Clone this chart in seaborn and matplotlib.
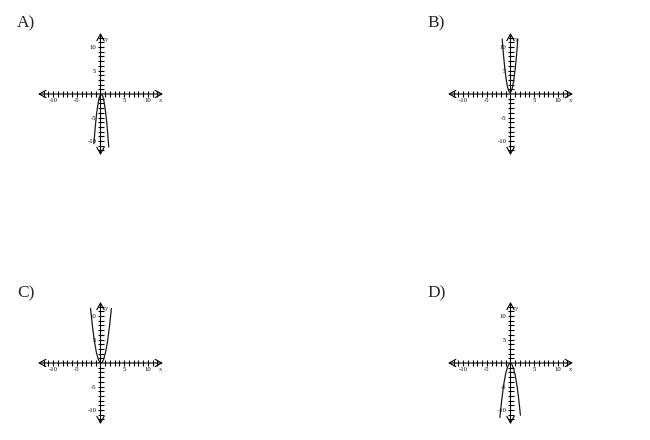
import matplotlib
matplotlib.use("Agg")
import matplotlib.pyplot as plt
import seaborn as sns

# ------------------------------------------------------------
# curve points read off each of the four answer graphs
# ------------------------------------------------------------
a_x = [-1.4, -1.1, -0.8, -0.5, -0.2, 0.15, 0.5, 0.8, 1.1, 1.4, 1.75]
a_y = [-10.6, -6.9, -4.0, -1.9, -0.5, 0.0, -0.5, -1.9, -4.0, -6.9, -11.3]

b_x = [-1.75, -1.5, -1.2, -0.9, -0.6, -0.3, -0.1, 0.1, 0.4, 0.7, 1.0, 1.3, 1.55]
b_y = [11.7, 8.5, 5.4, 3.0, 1.35, 0.5, 0.3, 0.5, 1.35, 3.0, 5.4, 8.5, 11.7]

c_x = [-2.1, -1.7, -1.3, -0.9, -0.5, -0.2, 0.1, 0.4, 0.7, 1.1, 1.5, 1.9, 2.3]
c_y = [11.6, 7.8, 4.7, 2.4, 0.9, 0.2, 0.0, 0.2, 0.9, 2.4, 4.7, 7.8, 11.6]

d_x = [-2.25, -1.85, -1.45, -1.05, -0.65, -0.3, 0.0, 0.3, 0.65, 1.0, 1.4, 1.75, 2.1]
d_y = [-11.6, -7.8, -4.7, -2.4, -0.9, -0.2, 0.0, -0.3, -1.2, -2.6, -5.0, -7.8, -11.1]

panel_labels = ["A)", "B)", "C)", "D)"]
tick_values = [t for t in range(-12, 13) if t != 0]
labelled_ticks = [-10, -5, 5, 10]

# ------------------------------------------------------------
# style
# ------------------------------------------------------------
sns.set_theme(style="white")
plt.rcParams['font.family'] = ['Liberation Serif', 'DejaVu Serif']

W, H = 650, 440
fig = plt.figure(figsize=(W / 100, H / 100), dpi=100)

XLIM, YLIM = 13.2, 13.0
PX_X, PX_Y = 4.73, 4.70   # pixels per unit in the reference

# origin of every small grid, and where its letter sits (pixels)
origins = [(100.5, 94), (510.5, 94), (100.5, 363), (510.5, 363)]
label_pos = [(17, 27), (427, 27), (17, 297), (427, 297)]


def draw_panel(ax, xs, ys):
    ax.set_xlim(-XLIM, XLIM)
    ax.set_ylim(-YLIM, YLIM)
    ax.patch.set_alpha(0)
    for side in ['top', 'right']:
        ax.spines[side].set_visible(False)
    # keep the spines at zero (the ticks follow them) but let the arrows draw the lines
    for side in ['left', 'bottom']:
        ax.spines[side].set_position('zero')
        ax.spines[side].set_visible(False)

    tick_text = [str(t) if t in labelled_ticks else '' for t in tick_values]
    ax.set_xticks(tick_values, labels=tick_text)
    ax.set_yticks(tick_values, labels=tick_text)
    ax.tick_params(axis='both', direction='inout', length=4.0, width=0.8,
                   color='black', labelsize=4.8, pad=1.0, labelcolor='black',
                   bottom=True, left=True)

    # double headed arrows on both axes
    arrow = dict(arrowstyle='<->, head_length=0.4, head_width=0.22',
                 color='black', lw=0.8, shrinkA=0, shrinkB=0)
    ax.annotate('', xy=(-XLIM, 0), xytext=(XLIM, 0), arrowprops=arrow)
    ax.annotate('', xy=(0, -YLIM), xytext=(0, YLIM), arrowprops=arrow)
    ax.text(12.7, -1.4, 'x', fontsize=4.8, ha='center', va='center')
    ax.text(1.2, 11.6, 'y', fontsize=4.8, ha='center', va='center')

    sns.lineplot(x=xs, y=ys, ax=ax, sort=False, estimator=None,
                 color='#1a1a1a', linewidth=0.9)
    ax.set_xlabel('')
    ax.set_ylabel('')


curves = [(a_x, a_y), (b_x, b_y), (c_x, c_y), (d_x, d_y)]
for (ox, oy), (xs, ys) in zip(origins, curves):
    half_w = XLIM * PX_X
    half_h = YLIM * PX_Y
    ax = fig.add_axes([(ox - half_w) / W, 1 - (oy + half_h) / H,
                       2 * half_w / W, 2 * half_h / H])
    draw_panel(ax, xs, ys)

for (lx, ly), txt in zip(label_pos, panel_labels):
    fig.text(lx / W, 1 - ly / H, txt, fontsize=12.5, ha='left', va='baseline')

fig.savefig('out.png', dpi=100)
